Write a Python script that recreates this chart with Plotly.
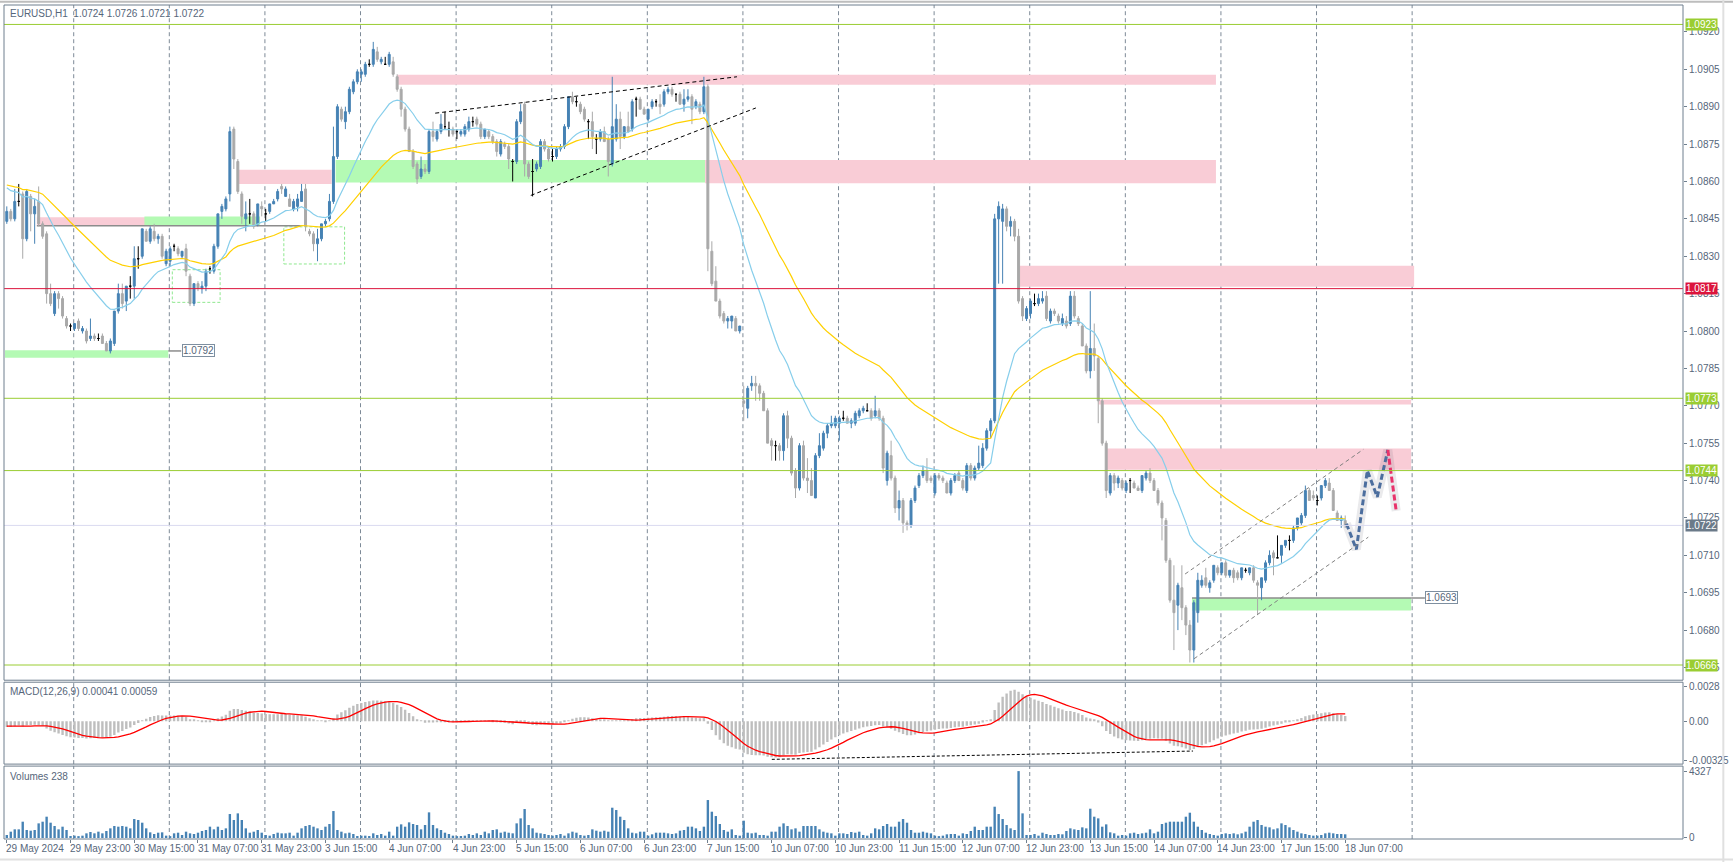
import plotly.graph_objects as go

# ---------------- DATA (prices in pips above 1.0000) ----------------
opens = [
844,848,845,852,855,837,854,847,852,843, 839,815,807,815,813,805,802,801,804,800,
800,797,798,797,798,795,792,795,808,815, 812,818,818,829,830,840,836,840,837,838,
827,828,834,833,830,833,822,811,819,817, 818,825,824,834,848,849,855,881,868,855,
845,847,847,843,850,847,848,851,853,858, 854,853,849,850,852,857,840,839,835,837,
843,845,852,870,889,884,888,896,900,903, 903,907,907,912,908,907,907,908,902,897,
889,881,872,867,862,865,864,880,877,880, 882,881,881,880,879,879,881,884,885,883,
878,880,878,876,871,875,874,868,868,884, 891,867,864,865,866,876,873,870,870,873,
874,882,894,892,891,889,884,884,877,877, 880,877,867,877,885,878,882,881,893,893,
889,885,890,892,891,891,896,897,895,895, 891,893,894,890,891,888,898,832,820,812,
807,804,804,805,800,772,769,778,779,778, 775,768,756,754,754,752,766,757,744,737,
754,741,740,733,750,753,759,762,762,763, 765,765,763,763,766,768,768,768,766,768,
765,740,750,741,729,732,723,722,732,738, 742,744,741,735,742,741,739,735,740,743,
740,736,746,741,745,746,753,760,764,845, 844,849,842,844,838,813,805,807,811,811,
812,814,804,808,806,803,804,803,814,805, 802,794,784,793,789,772,755,735,742,739,
740,736,740,739,737,736,741,743,740,736, 731,724,708,692,690,697,689,682,672,687,
698,701,697,700,705,703,707,702,704,703, 701,704,703,705,699,697,700,707,711,709,
710,714,716,716,721,723,726,736,734,732, 733,738,739,736,727,724,724]
highs = [
850,849,857,859,856,857,855,853,858,844, 840,819,816,816,814,806,803,803,805,802,
801,805,799,799,799,796,797,808,819,819, 818,822,834,834,841,841,842,843,839,839,
833,834,835,834,832,835,823,819,820,820, 825,826,835,847,851,854,882,882,869,856,
852,853,848,851,852,849,851,853,857,859, 858,855,853,855,859,859,841,840,841,843,
845,855,882,891,890,890,898,901,905,905, 908,909,916,914,910,910,912,910,903,898,
890,882,873,868,870,867,881,884,881,887, 888,884,882,881,881,883,886,886,886,884,
881,881,879,877,877,876,875,869,885,891, 892,868,869,868,877,877,874,873,874,875,
883,894,896,894,892,890,885,888,879,881, 882,878,902,891,888,882,888,893,894,894,
890,889,893,893,895,897,898,898,895,896, 897,897,895,893,892,902,899,836,826,813,
808,806,806,806,802,778,778,782,782,779, 776,769,757,756,755,767,768,758,745,755,
756,749,745,751,759,760,763,766,766,766, 768,766,765,768,769,770,771,769,774,769,
766,752,756,742,736,733,724,733,738,743, 746,749,742,743,743,742,740,741,743,744,
741,747,747,746,754,755,761,765,847,852, 851,850,846,845,841,814,810,813,815,815,
816,816,809,809,807,807,806,816,816,806, 803,795,816,803,790,773,756,743,743,742,
741,740,741,740,738,742,744,745,741,737, 732,725,709,706,699,706,690,684,692,703,
702,705,700,706,706,707,708,704,705,704, 705,705,705,706,700,701,708,712,712,718,
714,716,718,722,725,727,738,737,736,734, 738,741,741,737,728,726,726]
lows = [
843,844,844,850,829,836,840,835,842,837, 811,810,806,809,805,801,800,800,800,799,
795,796,796,796,795,792,791,794,807,809, 808,813,813,825,829,836,835,836,835,829,
826,826,832,830,829,822,810,810,816,815, 816,823,823,833,845,848,852,865,855,843,
840,843,841,842,846,844,847,851,852,855, 854,850,848,848,852,840,838,832,828,836,
842,844,851,869,884,881,887,895,899,900, 902,906,906,908,907,907,906,902,896,886,
880,872,865,859,861,863,863,876,876,879, 881,878,878,877,878,878,880,882,882,877,
877,877,875,870,870,873,865,860,867,883, 862,861,854,864,865,872,868,868,869,872,
873,881,891,890,887,884,877,873,871,876, 876,862,866,876,873,877,880,880,886,889,
887,884,889,890,887,890,895,894,892,891, 888,892,883,889,887,887,824,818,812,805,
803,801,801,800,799,764,765,776,772,772, 768,755,748,748,748,748,753,742,733,736,
740,735,734,733,749,752,757,761,761,756, 764,763,761,762,765,767,768,764,765,764,
743,738,740,727,724,719,720,721,731,737, 741,739,739,734,740,739,735,734,739,740,
736,735,740,740,744,745,752,757,763,819, 819,840,838,836,811,804,804,805,810,810,
811,804,803,806,803,802,801,802,805,802, 794,783,781,784,763,754,733,734,736,737,
736,735,735,737,736,735,740,739,736,730, 716,707,691,672,680,684,678,667,667,683,
697,697,695,699,702,702,701,701,699,700, 700,703,702,699,686,692,699,706,702,709,
707,713,712,715,720,722,725,732,732,730, 732,737,736,728,724,721,721]
closes = [
848,845,852,852,837,856,847,850,843,838, 815,811,815,813,806,802,802,803,801,801,
796,798,797,797,795,792,796,808,815,811, 818,818,829,829,841,836,841,837,838,830,
832,833,834,831,832,824,811,819,817,818, 824,825,834,847,850,853,880,869,856,846,
847,847,842,851,849,847,851,852,856,857, 857,850,852,853,856,842,839,835,837,843,
844,852,870,890,885,888,897,900,904,904, 907,907,913,909,909,907,911,903,897,889,
881,872,866,861,865,864,880,878,880,883, 882,881,879,880,880,882,884,884,883,878,
881,878,876,872,876,874,869,868,884,888, 867,862,864,867,876,873,869,870,873,874,
882,894,892,892,888,885,884,878,877,880, 876,868,882,885,878,882,880,892,893,889,
887,889,892,892,890,896,897,895,895,891, 893,894,889,892,888,898,833,819,812,806,
804,805,806,800,802,771,777,779,778,775, 768,755,754,754,752,766,757,743,737,754,
741,740,734,750,754,759,762,763,765,765, 765,763,764,767,768,769,768,765,768,765,
745,751,741,729,732,723,722,732,737,742, 744,740,740,742,741,740,735,740,742,740,
737,746,741,745,747,753,760,764,845,850, 849,842,844,838,812,806,809,812,811,813,
813,805,808,807,804,805,802,814,806,803, 794,784,793,790,772,755,736,742,739,741,
737,739,740,737,736,742,743,740,736,731, 725,708,692,687,698,689,682,672,691,700,
700,698,699,706,703,707,702,704,701,701, 705,704,705,700,698,701,707,710,709,709,
714,716,716,721,725,726,736,732,733,732, 738,740,736,728,724,725,722]
volumes = [
194,409,560,560,1055,517,474,517,947,1055, 1378,990,775,560,732,517,129,151,86,151,
301,388,301,409,301,452,624,775,732,775, 732,624,1227,1163,990,624,366,258,344,366,
151,86,301,344,194,409,301,258,344,452, 517,732,560,732,517,624,1550,1163,1593,1163,
624,344,409,517,344,194,151,258,344,301, 301,344,151,344,624,775,840,732,624,517,
732,904,1744,517,409,301,344,258,129,151, 151,129,301,194,258,151,409,151,732,883,
732,1012,904,840,560,840,1658,840,624,517, 344,258,151,86,129,151,258,194,301,194,
409,301,517,560,344,409,344,301,947,1270, 1873,840,624,344,301,258,194,151,194,258,
151,301,409,344,194,151,194,560,474,409, 474,409,1959,1809,1378,1163,624,344,301,409,
409,151,237,344,344,344,301,258,301,474, 517,732,732,624,452,732,2455,1701,1421,904,
517,409,560,194,151,1120,344,301,344,194, 194,151,409,409,732,947,775,560,624,409,
775,775,775,775,560,409,344,301,151,301, 301,258,388,344,409,194,151,301,624,560,
775,904,732,732,1055,1227,990,517,344,344, 409,344,301,151,86,151,237,258,258,151,
301,258,452,732,517,517,732,732,2024,1550, 1227,840,624,517,4327,1593,194,194,258,151,
344,258,194,194,258,237,452,624,560,517, 689,624,1895,1378,1270,732,883,366,301,151,
194,151,301,344,258,301,344,560,301,409, 904,990,1055,1055,1055,1055,1378,1636,1055,732,
517,344,258,194,151,258,301,258,301,237, 301,409,732,1055,1163,840,732,689,560,624,
947,840,689,517,409,301,258,194,151,151, 194,301,344,301,258,258,238]

x_labels = ["29 May 2024", "29 May 23:00", "30 May 15:00", "31 May 07:00", "31 May 23:00",
            "3 Jun 15:00", "4 Jun 07:00", "4 Jun 23:00", "5 Jun 15:00", "6 Jun 07:00",
            "6 Jun 23:00", "7 Jun 15:00", "10 Jun 07:00", "10 Jun 23:00", "11 Jun 15:00",
            "12 Jun 07:00", "12 Jun 23:00", "13 Jun 15:00", "14 Jun 07:00", "14 Jun 23:00",
            "17 Jun 15:00", "18 Jun 07:00"]
x_label_bars = [16 * k for k in range(len(x_labels))]
day_start_bars = [17, 41, 65, 89, 113, 137, 161, 185, 209, 233, 257, 281, 305, 329, 353]

price_ticks = [1.0665 + 0.0015 * k for k in range(18)]
levels = [(1.0923, "#9ACD32"), (1.0817, "#DC143C"), (1.0773, "#9ACD32"),
          (1.0744, "#9ACD32"), (1.0666, "#9ACD32")]
current_price = 1.0722

# indicator start states
ma_fast_seed, ma_slow_seed = 858.5, 859.0
ema12_seed, ema26_seed, signal_seed = 849.5, 854.5, -4.0

# analysis objects: (bar_from, bar_to, low_pips, high_pips, kind)
zones = [
    (7.55, 35.05, 842.3, 845.6, "pink"), (34.55, 63.55, 842.3, 845.9, "green"),
    (57.8, 81.55, 859.0, 864.7, "pink"), (82.55, 175.3, 859.6, 868.6, "green"),
    (175.3, 303.55, 859.3, 868.6, "pink"), (98.05, 303.55, 898.8, 902.8, "pink"),
    (254.05, 353.3, 817.8, 826.2, "pink"), (274.05, 352.55, 770.5, 772.4, "pink"),
    (276.05, 352.55, 744.3, 752.9, "pink"), (297.55, 352.55, 687.9, 692.9, "green"),
    (-0.45, 40.55, 789.3, 792.3, "green"),
]
dashed_boxes = [(41.55, 53.55, 811.5, 824.6), (69.55, 84.8, 826.9, 841.8)]
gray_lines = [(7.55, 73.8, 842.2), (297.55, 352.55, 692.9), (352.55, 356.0, 692.9), (40.55, 43.8, 792.0)]
price_tags = [(43.9, 792.0, "1.0792"), (356.1, 692.9, "1.0693")]
trend_black = [((107.55, 887.4), (183.3, 902.0)), ((131.55, 854.4), (188.05, 889.5))]
channel = [((295.8, 702.5), (340.55, 752.5)), ((298.05, 668.5), (341.8, 717.3))]
macd_trend = ((192.05, -0.00313), (297.8, -0.00245))
proj_blue_bars = [336.3, 338.8, 341.55, 344.05, 346.7]
proj_blue_pips = [722.7, 712.4, 744.0, 733.4, 752.3]
proj_red_bars = [346.7, 348.8]
proj_red_pips = [752.3, 727.8]

# ---------------- helpers ----------------
N = len(closes)
assert len(opens) == N and len(highs) == N and len(lows) == N and len(volumes) == N
bars = list(range(N))


def px(p):
    return 1.0 + p / 10000.0


def ema(vals, n, seed):
    a = 2.0 / (n + 1)
    e, out = seed, []
    for v in vals:
        e = e + a * (v - e)
        out.append(e)
    return out


ma_fast = ema(closes, 20, ma_fast_seed)
ma_slow = ema(closes, 50, ma_slow_seed)
e12 = ema(closes, 12, ema12_seed)
e26 = ema(closes, 26, ema26_seed)
macd_main = [a - b for a, b in zip(e12, e26)]
hist_buf = [signal_seed] * 8 + macd_main
macd_signal = [sum(hist_buf[i:i + 9]) / 9.0 for i in range(N)]

AX = "#6F7F8E"
TXT = "#56667A"
FONT = "Liberation Sans"
PINK = "#F9CCD6"
GREEN = "#B4FAB4"

fig = go.Figure()

# zones (background)
for b0, b1, lo, hi, kind in zones:
    fig.add_shape(type="rect", xref="x", yref="y", x0=b0, x1=b1, y0=px(lo), y1=px(hi),
                  fillcolor=PINK if kind == "pink" else GREEN, line=dict(width=0), layer="below")
for b0, b1, lo, hi in dashed_boxes:
    fig.add_shape(type="rect", xref="x", yref="y", x0=b0, x1=b1, y0=px(lo), y1=px(hi),
                  fillcolor="rgba(0,0,0,0)", line=dict(color="#8FE88F", width=1, dash="3px,2px"),
                  layer="below")
for b0, b1, p in gray_lines:
    fig.add_shape(type="line", xref="x", yref="y", x0=b0, x1=b1, y0=px(p), y1=px(p),
                  line=dict(color="#8C8C8C", width=1.5), layer="below")

# vertical day grid in each panel
for b in day_start_bars:
    for ya in ("y", "y2", "y3"):
        fig.add_shape(type="line", xref="x", yref=ya + " domain", x0=b - 0.2, x1=b - 0.2, y0=0, y1=1,
                      line=dict(color="#7D8A97", width=1, dash="4px,3px"), layer="below")

# candles
groups = [
    ([i for i in bars if closes[i] > opens[i]], "#4682B4"),
    ([i for i in bars if closes[i] < opens[i]], "#A9A9A9"),
    ([i for i in bars if closes[i] == opens[i]], "#000000"),
]
for idx, col in groups:
    fig.add_trace(go.Candlestick(
        x=idx, open=[px(opens[i]) for i in idx], high=[px(highs[i]) for i in idx],
        low=[px(lows[i]) for i in idx], close=[px(closes[i]) for i in idx],
        increasing=dict(line=dict(color=col, width=1), fillcolor=col),
        decreasing=dict(line=dict(color=col, width=1), fillcolor=col),
        whiskerwidth=0, hoverinfo="skip", showlegend=False, xaxis="x", yaxis="y"))

fig.add_trace(go.Scatter(x=bars, y=[px(v) for v in ma_slow], mode="lines",
                         line=dict(color="#FFD000", width=1.2), hoverinfo="skip", yaxis="y"))
fig.add_trace(go.Scatter(x=bars, y=[px(v) for v in ma_fast], mode="lines",
                         line=dict(color="#87CEEB", width=1.2), hoverinfo="skip", yaxis="y"))

# trendlines
for (b0, p0), (b1, p1) in trend_black:
    fig.add_shape(type="line", xref="x", yref="y", x0=b0, y0=px(p0), x1=b1, y1=px(p1),
                  line=dict(color="#000000", width=1, dash="4px,3px"))
for (b0, p0), (b1, p1) in channel:
    fig.add_shape(type="line", xref="x", yref="y", x0=b0, y0=px(p0), x1=b1, y1=px(p1),
                  line=dict(color="#808080", width=1, dash="4px,3px"))

# projection
fig.add_trace(go.Scatter(x=proj_blue_bars + proj_red_bars[1:],
                         y=[px(v) for v in proj_blue_pips + proj_red_pips[1:]], mode="lines",
                         line=dict(color="rgba(90,90,110,0.13)", width=9), hoverinfo="skip", yaxis="y"))
fig.add_trace(go.Scatter(x=proj_blue_bars, y=[px(v) for v in proj_blue_pips], mode="lines",
                         line=dict(color="#4C6E9E", width=3, dash="6px,3px"), hoverinfo="skip", yaxis="y"))
fig.add_trace(go.Scatter(x=proj_red_bars, y=[px(v) for v in proj_red_pips], mode="lines",
                         line=dict(color="#E8336B", width=3, dash="6px,3px"), hoverinfo="skip", yaxis="y"))

# level lines
for p, col in levels:
    fig.add_shape(type="line", xref="x domain", yref="y", x0=0, x1=1, y0=p, y1=p,
                  line=dict(color=col, width=1))
fig.add_shape(type="line", xref="x domain", yref="y", x0=0, x1=1, y0=current_price, y1=current_price,
              line=dict(color="#DADAF0", width=1))

# MACD
fig.add_trace(go.Bar(x=bars, y=[v / 10000.0 for v in macd_main], width=0.6,
                     marker=dict(color="#BEBEBE", line=dict(width=0)), hoverinfo="skip", yaxis="y2"))
fig.add_trace(go.Scatter(x=bars, y=[v / 10000.0 for v in macd_signal], mode="lines",
                         line=dict(color="#FF0000", width=1.3), hoverinfo="skip", yaxis="y2"))
(mb0, mv0), (mb1, mv1) = macd_trend
fig.add_shape(type="line", xref="x", yref="y2", x0=mb0, y0=mv0, x1=mb1, y1=mv1,
              line=dict(color="#000000", width=1, dash="3px,2px"))

# Volumes
fig.add_trace(go.Bar(x=bars, y=volumes, width=0.6, marker=dict(color="#4682B4", line=dict(width=0)),
                     hoverinfo="skip", yaxis="y3"))

# panel frames
for ya in ("y", "y2", "y3"):
    fig.add_shape(type="rect", xref="paper", yref=ya + " domain", x0=0, x1=1, y0=0, y1=1,
                  line=dict(color=AX, width=1), fillcolor="rgba(0,0,0,0)")
# outer window border
fig.add_shape(type="line", xref="paper", yref="paper", x0=-0.01, x1=1.03, y0=1 + 3.2 / 835, y1=1 + 3.2 / 835,
              line=dict(color="#BDBDBD", width=2))
fig.add_shape(type="line", xref="paper", yref="paper", x0=-0.01, x1=1.03, y0=-20.5 / 835, y1=-20.5 / 835,
              line=dict(color="#E0E0E0", width=2))
fig.add_shape(type="line", xref="paper", yref="paper", x0=1 + 40.5 / 1686, x1=1 + 40.5 / 1686, y0=-0.03, y1=1.01,
              line=dict(color="#E0E0E0", width=2))

ann = []
# right price tags
for p, col in levels:
    ann.append(dict(xref="paper", yref="y", x=1 + 2 / 1686, y=p, xanchor="left", yanchor="middle",
                    text="%.4f" % p, showarrow=False, bgcolor=col, borderpad=0,
                    font=dict(family=FONT, size=10, color="white")))
ann.append(dict(xref="paper", yref="y", x=1 + 2 / 1686, y=current_price, xanchor="left", yanchor="middle",
                text="%.4f" % current_price, showarrow=False, bgcolor="#6B7A89", borderpad=0,
                font=dict(family=FONT, size=10, color="white")))
for b, p, t in price_tags:
    ann.append(dict(xref="x", yref="y", x=b, y=px(p), xanchor="left", yanchor="middle", text=t,
                    showarrow=False, bgcolor="white", bordercolor="#7E8FA0", borderwidth=1, borderpad=0,
                    font=dict(family=FONT, size=10, color=TXT)))
# headers
ann.append(dict(xref="paper", yref="paper", x=4 / 1686, y=1 - 8.7 / 835, xanchor="left", yanchor="middle",
                text="EURUSD,H1\u00a0\u00a01.0724 1.0726 1.0721 1.0722", showarrow=False,
                font=dict(family=FONT, size=10, color=TXT)))
ann.append(dict(xref="paper", yref="paper", x=4 / 1686, y=1 - 687.7 / 835, xanchor="left", yanchor="middle",
                text="MACD(12,26,9) 0.00041 0.00059", showarrow=False,
                font=dict(family=FONT, size=10, color=TXT)))
ann.append(dict(xref="paper", yref="paper", x=4 / 1686, y=1 - 772 / 835, xanchor="left", yanchor="middle",
                text="Volumes 238", showarrow=False, font=dict(family=FONT, size=10, color=TXT)))
# bottom time labels
for b, t in zip(x_label_bars, x_labels):
    ann.append(dict(xref="x", yref="paper", x=b - 0.6, y=-9.3 / 835, xanchor="left", yanchor="middle",
                    text=t, showarrow=False, font=dict(family=FONT, size=10, color=TXT)))

yax_common = dict(side="right", anchor="x", showgrid=False, zeroline=False, showline=False,
                  ticks="outside", ticklen=3, tickcolor=AX,
                  tickfont=dict(family=FONT, size=10, color=TXT), fixedrange=True)

fig.update_layout(
    width=1733, height=862, margin=dict(l=4, r=43, t=4, b=23),
    paper_bgcolor="white", plot_bgcolor="white", showlegend=False, barmode="overlay",
    hovermode=False, annotations=ann,
    xaxis=dict(range=[-0.7, 420.8], domain=[0, 1], anchor="y3", showgrid=False, zeroline=False,
               showline=False, tickvals=x_label_bars, ticks="outside", ticklen=3, tickcolor=AX,
               showticklabels=False, rangeslider=dict(visible=False), fixedrange=True),
    yaxis=dict(domain=[0.1904, 1.0], range=[1.06599, 1.09308], tickvals=price_ticks,
               ticktext=["%.4f" % v for v in price_ticks], **yax_common),
    yaxis2=dict(domain=[0.0898, 0.1880], range=[-0.00352, 0.00319], tickvals=[0.0028, 0.0, -0.00325],
                ticktext=["0.0028", "0.00", "-0.00325"], **yax_common),
    yaxis3=dict(domain=[0.0, 0.0874], range=[-65, 4650], tickvals=[4327, 0],
                ticktext=["4327", "0"], **yax_common),
)

fig.write_html("out.html", config={"displayModeBar": False},
               post_script="document.body.style.margin='0';document.body.style.overflow='hidden';")
